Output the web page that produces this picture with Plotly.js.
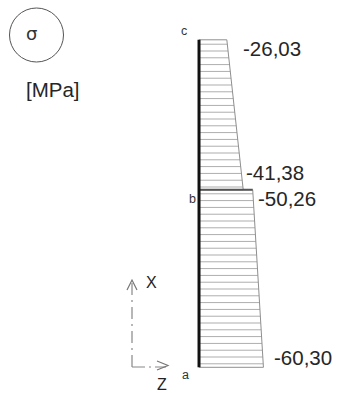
<!DOCTYPE html>
<html>
<head>
<meta charset="utf-8">
<script src="https://cdn.plot.ly/plotly-3.0.1.min.js"></script>
<style>html,body{margin:0;padding:0;background:#fff;}#chart{width:338px;height:393px;}</style>
</head>
<body>
<div id="chart"></div>
<script>
// ---- data ----
const pointNames = ['a', 'b', 'c'];            // section points, bottom to top
const pointPos = [0, 3.55, 6.55];              // position along member
const lowerStress = [-60.30, -50.26];          // sigma at a, b (segment a-b) [MPa]
const upperStress = [-41.38, -26.03];          // sigma at b, c (segment b-c) [MPa]
const unitLabel = '[MPa]';
const symbolLabel = 'σ';

const fmt = v => v.toFixed(2).replace('.', ',');
const W = 338, H = 393;
const px = x => x / W, py = y => 1 - y / H;

const hatch = {shape: '-', size: 6.8, solidity: 0.15, fgcolor: '#ababab', bgcolor: '#ffffff'};
const outline = {color: '#8f8f8f', width: 1};

const traces = [
  { // lower segment a-b
    x: [0, lowerStress[0], lowerStress[1], 0, 0],
    y: [pointPos[0], pointPos[0], pointPos[1], pointPos[1], pointPos[0]],
    mode: 'lines', fill: 'toself', fillcolor: '#ffffff', fillpattern: hatch,
    line: outline, hoverinfo: 'skip'
  },
  { // upper segment b-c
    x: [0, upperStress[0], upperStress[1], 0, 0],
    y: [pointPos[1], pointPos[1], pointPos[2], pointPos[2], pointPos[1]],
    mode: 'lines', fill: 'toself', fillcolor: '#ffffff', fillpattern: hatch,
    line: outline, hoverinfo: 'skip'
  },
  { // step at b
    x: [0, lowerStress[1]],
    y: [pointPos[1], pointPos[1]],
    mode: 'lines', line: {color: '#555555', width: 2}, hoverinfo: 'skip'
  },
  { // member axis
    x: [0, 0],
    y: [pointPos[0], pointPos[2]],
    mode: 'lines', line: {color: '#111111', width: 3}, hoverinfo: 'skip'
  }
];

const valFont = {family: 'Liberation Sans, Arial, sans-serif', size: 20.5, color: '#262626'};
const ptFont = {family: 'Liberation Sans, Arial, sans-serif', size: 12.5, color: '#333333'};

function valAnn(x, y, xs, ys) {
  return {x: x, y: y, xref: 'x', yref: 'y', text: fmt(x), showarrow: false,
          xanchor: 'left', yanchor: 'middle', xshift: xs, yshift: ys, font: valFont};
}
function ptAnn(i, xs, ys) {
  return {x: 0, y: pointPos[i], xref: 'x', yref: 'y', text: pointNames[i], showarrow: false,
          xanchor: 'center', yanchor: 'middle', xshift: xs, yshift: ys, font: ptFont};
}

const annotations = [
  valAnn(lowerStress[0], pointPos[0], 8.5, 10),
  valAnn(lowerStress[1], pointPos[1], 3.5, -9),
  valAnn(upperStress[0], pointPos[1], 0.5, 17),
  valAnn(upperStress[1], pointPos[2], 14, -8.5),
  ptAnn(0, -14, -8),
  ptAnn(1, -7, -9),
  ptAnn(2, -15, 8.5),
  {x: px(31), y: py(33), xref: 'paper', yref: 'paper', text: symbolLabel, showarrow: false,
   xanchor: 'center', yanchor: 'middle', font: {family: 'DejaVu Sans, sans-serif', size: 18, color: '#333'}},
  {x: px(53), y: py(90), xref: 'paper', yref: 'paper', text: unitLabel, showarrow: false,
   xanchor: 'center', yanchor: 'middle', font: valFont},
  {x: px(151), y: py(282), xref: 'paper', yref: 'paper', text: 'X', showarrow: false,
   xanchor: 'center', yanchor: 'middle', font: {family: 'Liberation Sans, Arial, sans-serif', size: 16, color: '#222'}},
  {x: px(162), y: py(384), xref: 'paper', yref: 'paper', text: 'Z', showarrow: false,
   xanchor: 'center', yanchor: 'middle', font: {family: 'Liberation Sans, Arial, sans-serif', size: 16, color: '#222'}}
];

const shapes = [
  {type: 'circle', xref: 'paper', yref: 'paper', x0: px(9.5), x1: px(63.5), y0: py(62), y1: py(8),
   line: {color: '#555', width: 1}},
  {type: 'line', xref: 'paper', yref: 'paper', x0: px(132), x1: px(132), y0: py(283), y1: py(367),
   line: {color: '#888', width: 1.2, dash: '12px,5px,2px,5px'}},
  {type: 'line', xref: 'paper', yref: 'paper', x0: px(132), x1: px(166), y0: py(367), y1: py(367),
   line: {color: '#888', width: 1.2, dash: '13px,4px,2px,4px'}},
  {type: 'path', xref: 'paper', yref: 'paper',
   path: 'M' + px(127) + ',' + py(290) + ' L' + px(132) + ',' + py(280) + ' L' + px(137) + ',' + py(290),
   line: {color: '#777', width: 1.2}},
  {type: 'path', xref: 'paper', yref: 'paper',
   path: 'M' + px(157) + ',' + py(361) + ' L' + px(168) + ',' + py(365.5) + ' L' + px(157) + ',' + py(370),
   line: {color: '#777', width: 1.2}}
];

const layout = {
  width: W, height: H,
  margin: {l: 0, r: 0, t: 0, b: 0, pad: 0},
  paper_bgcolor: '#ffffff', plot_bgcolor: '#ffffff',
  showlegend: false, hovermode: false,
  xaxis: {range: [186.3, -130.1], visible: false, fixedrange: true},
  yaxis: {range: [-0.514, 7.346], visible: false, fixedrange: true},
  annotations: annotations,
  shapes: shapes
};

Plotly.newPlot('chart', traces, layout, {displayModeBar: false, staticPlot: true});
</script>
</body>
</html>
